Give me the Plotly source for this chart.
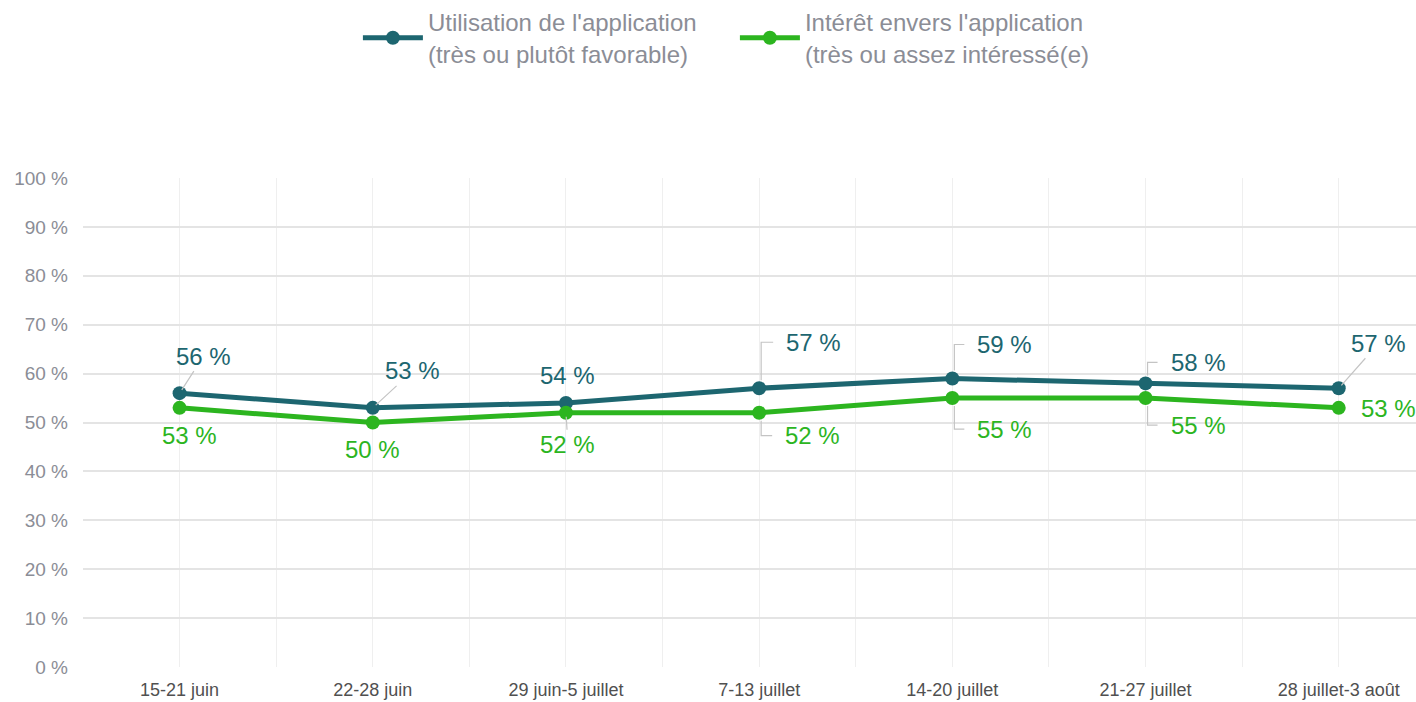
import plotly.graph_objects as go

categories = ["15-21 juin", "22-28 juin", "29 juin-5 juillet", "7-13 juillet",
              "14-20 juillet", "21-27 juillet", "28 juillet-3 août"]
utilisation = [56, 53, 54, 57, 59, 58, 57]
interet = [53, 50, 52, 52, 55, 55, 53]
series_names = ["Utilisation de l'application<br>(très ou plutôt favorable)",
                "Intérêt envers l'application<br>(très ou assez intéressé(e)"]
y_ticks = list(range(0, 101, 10))
y_ticktext = [f"{v} %" for v in y_ticks]

teal = "#1d6670"
green = "#2cb51f"
leader = "#c4c4c4"
font_family = "Liberation Sans, Arial, sans-serif"

# label placement in pixels: (kind, dx, dy) ; dy positive = downwards
#  "line": straight leader, text centre at (dx, dy)
#  "none": no leader, text centre at (dx, dy)
#  "elbow": vertical+horizontal leader, text left edge at dx, centre at dy
teal_pl = [("line", 24, -37), ("line", 40, -37), ("none", 2, -27), ("elbow", 25, -46),
           ("elbow", 23, -34), ("elbow", 23, -21), ("line", 40, -45)]
green_pl = [("none", 10, 28), ("none", 0, 27), ("line", 2, 32), ("elbow", 24, 23),
            ("elbow", 23, 31), ("elbow", 23, 27), ("none", 50, 1)]

xi = list(range(len(categories)))

fig = go.Figure()
fig.add_trace(go.Scatter(x=xi, y=utilisation, mode="lines+markers", name=series_names[0],
                         line=dict(color=teal, width=5), marker=dict(size=14, color=teal)))
fig.add_trace(go.Scatter(x=xi, y=interet, mode="lines+markers", name=series_names[1],
                         line=dict(color=green, width=5), marker=dict(size=14, color=green)))

annotations = []
shapes = []
for vals, pls, col in [(utilisation, teal_pl, teal), (interet, green_pl, green)]:
    for i, v in enumerate(vals):
        kind, dx, dy = pls[i]
        base = dict(x=i, y=v, xref="x", yref="y", text=f"{v} %",
                    font=dict(size=24, color=col, family=font_family))
        if kind == "line":
            base.update(showarrow=True, ax=dx, ay=dy, axref="pixel", ayref="pixel",
                        arrowhead=0, arrowwidth=1.2, standoff=4, arrowcolor=leader)
        elif kind == "none":
            base.update(showarrow=False, xshift=dx, yshift=-dy)
        else:
            base.update(showarrow=False, xanchor="left", xshift=dx, yshift=-dy)
            sgn = -1 if dy < 0 else 1
            up = -dy  # pixel path: positive is up
            shapes.append(dict(
                type="path", xref="x", yref="y", xsizemode="pixel", ysizemode="pixel",
                xanchor=i, yanchor=v,
                path=f"M 2,{-sgn*8} L 2,{up} L {dx-11},{up}",
                line=dict(color=leader, width=1.2), layer="above"))
        annotations.append(base)

fig.update_layout(
    width=1416, height=702,
    margin=dict(l=83, r=0, t=178, b=35),
    paper_bgcolor="white", plot_bgcolor="white",
    font=dict(family=font_family),
    showlegend=True,
    legend=dict(orientation="h", x=0.519, xanchor="center", xref="container",
                y=1.0, yanchor="top", yref="container",
                font=dict(size=24, color="#8b8d96", family=font_family),
                itemwidth=60, entrywidth=302, tracegroupgap=0),
    annotations=annotations,
    shapes=shapes,
    xaxis=dict(range=[-0.5, 6.4], tickmode="array", tickvals=xi, ticktext=categories,
               showgrid=True, gridcolor="#efefef", gridwidth=1, zeroline=False,
               tickfont=dict(size=18, color="#505050"), ticks="", showline=False,
               ticklabelstandoff=10, tickangle=0,
               minor=dict(tick0=-0.5, dtick=1, showgrid=True, gridcolor="#efefef", gridwidth=1)),
    yaxis=dict(range=[0, 100], tickmode="array", tickvals=y_ticks, ticktext=y_ticktext,
               showgrid=True, gridcolor="#e4e4e4", gridwidth=2, zeroline=False,
               tickfont=dict(size=19, color="#8b8d96"), ticks="", showline=False,
               ticklabelstandoff=14),
)

fig.write_html("out.html", config={"displayModeBar": False},
               post_script="document.body.style.margin='0';")
